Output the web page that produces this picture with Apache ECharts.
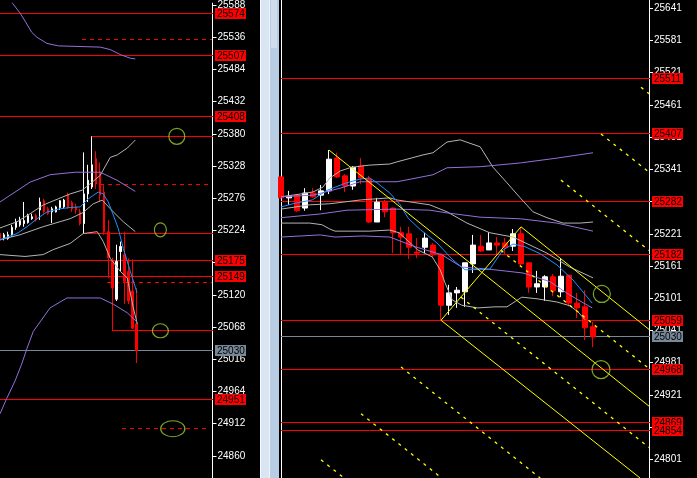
<!DOCTYPE html>
<html><head><meta charset="utf-8">
<script src="https://cdn.jsdelivr.net/npm/echarts@6/dist/echarts.min.js"></script>
<style>html,body{margin:0;padding:0;background:#000;overflow:hidden}#c{width:697px;height:478px}</style>
</head><body><div id="c"></div>
<script>
// ---------------- data ----------------
// candles: [open, close, low, high]
const leftCandles = [
 [25219,25208,25206,25222],[25212,25217,25208,25220],[25211,25217,25209,25222],[25217,25229,25214,25233],
 [25229,25238,25225,25243],[25233,25240,25230,25246],[25235,25240,25230,25270],[25237,25248,25235,25251],
 [25243,25246,25241,25251],[25248,25241,25238,25251],[25257,25270,25241,25277],[25272,25254,25251,25275],
 [25259,25251,25249,25262],[25254,25259,25236,25262],[25254,25262,25253,25264],[25261,25272,25257,25273],
 [25262,25273,25259,25275],[25281,25261,25259,25285],[25269,25259,25254,25272],[25262,25257,25251,25267],
 [25254,25235,25232,25259],[25235,25283,25219,25350],[25283,25305,25270,25330],[25294,25330,25291,25376],
 [25340,25299,25291,25352],[25318,25281,25270,25334],[25286,25222,25217,25297],[25222,25180,25147,25241],
 [25174,25131,25062,25180],[25113,25174,25110,25201],[25190,25198,25158,25206],[25185,25142,25105,25222],
 [25158,25110,25105,25179],[25126,25066,25065,25177],[25073,25030,25010,25131]
];
const rightCandles = [
 [25327,25288,25286,25328],[25288,25291,25275,25301],[25293,25264,25262,25295],[25269,25297,25264,25306],
 [25297,25290,25288,25306],[25293,25301,25265,25312],[25301,25360,25295,25377],[25362,25327,25325,25372],
 [25329,25310,25299,25332],[25310,25345,25303,25347],[25347,25325,25314,25362],[25323,25243,25241,25329],
 [25243,25280,25243,25288],[25280,25262,25252,25284],[25269,25223,25185,25270],[25223,25215,25183,25234],
 [25221,25196,25174,25234],[25187,25185,25176,25213],[25196,25213,25185,25223],[25200,25182,25178,25204],
 [25183,25088,25060,25184],[25088,25111,25070,25126],[25111,25116,25083,25122],[25113,25167,25085,25167],
 [25165,25200,25148,25219],[25198,25189,25187,25219],[25191,25204,25191,25224],[25204,25200,25182,25215],
 [25204,25196,25183,25213],[25198,25221,25189,25230],[25221,25165,25163,25233],[25167,25122,25111,25167],
 [25122,25128,25111,25152],[25122,25141,25096,25144],[25141,25115,25105,25146],[25113,25142,25103,25176],
 [25144,25092,25086,25144],[25092,25083,25064,25111],[25085,25046,25023,25116],[25048,25029,25010,25057]
];
const leftSlots = 54, rightSlots = 47;

// indicator lines: [bar position, price]
const leftGrayUpper = [[0,25228],[4.25,25238],[7.5,25251],[10.75,25265],[14.5,25275],[17.5,25283],[20.5,25289],[23,25302],[25,25313],[27.5,25342],[29.25,25346],[31.75,25357],[33.75,25370]];
const leftGrayMid = [[0,25209],[5,25217],[10.75,25230],[17.5,25243],[20.75,25253],[23.25,25267],[25.5,25273],[28.25,25254],[30.75,25238],[33.75,25222]];
const leftGrayLower = [[0,25185],[6.25,25182],[10.75,25185],[13.25,25193],[17.5,25203],[20.75,25219],[24.25,25222],[25.75,25206],[27.5,25179],[30,25158],[31.75,25147],[33.25,25099],[34.25,25073]];
const leftPurpleUpper = [[2.5,25604],[3.1,25591],[5,25575],[6.25,25562],[7.9,25544],[9.2,25536],[11.7,25526],[14.6,25522],[25,25520],[27.5,25516],[30,25508],[32.5,25502],[33.75,25501]];
const leftPurpleMid = [[0,25270],[7.5,25302],[12.5,25314],[18.75,25318],[25,25318],[29.2,25305],[33.75,25287]];
const leftPurpleLower = [[0,24928],[1.7,24953],[3.75,24981],[5.4,25008],[6.7,25033],[8.3,25061],[12.5,25099],[16.7,25115],[25,25115],[28.25,25105],[31.75,25091],[34.2,25076]];
const leftBlue = [[0,25209],[4.25,25219],[6.75,25230],[9.25,25243],[11.75,25254],[15,25259],[17.5,25261],[20,25262],[22,25275],[24.5,25286],[25.75,25283],[27,25270],[28.25,25249],[29.5,25227],[30.75,25195],[32.5,25158],[34.2,25123]];

const rightGrayUpper = [[0,25290],[2.4,25295],[4,25299],[5.25,25308],[6.1,25325],[7.4,25338],[8.6,25344],[9.9,25347],[11.1,25349],[13.6,25351],[14.5,25355],[17.75,25368],[19,25372],[20.75,25392],[22.4,25396],[24.9,25383],[26.5,25345],[28.25,25316],[29.9,25288],[31.5,25262],[33.25,25251],[35.25,25241],[37.4,25241],[39,25243]];
const rightGrayMid = [[0,25267],[3.6,25275],[6.1,25277],[9.9,25284],[13.6,25288],[14.5,25284],[18.6,25275],[20.75,25262],[23.25,25241],[26.1,25223],[29,25215],[33.25,25185],[36.1,25159],[39,25139]];
const rightGrayLower = [[0,25241],[3.6,25241],[5.1,25238],[6.1,25230],[6.75,25226],[11.1,25226],[13.6,25228],[14.75,25223],[17.1,25191],[18.9,25178],[19.9,25154],[20.5,25130],[21.4,25098],[22.6,25088],[24.6,25083],[26.75,25085],[28.25,25085],[30.1,25103],[32,25100],[34.5,25094],[36.1,25087],[37.1,25076],[38,25061]];
const rightPurpleUpper = [[0,25290],[4,25293],[7.4,25306],[9.9,25318],[14.5,25318],[19,25331],[20.75,25344],[24.9,25346],[29.9,25353],[34.5,25362],[39,25372]];
const rightPurpleMid = [[0,25251],[4.9,25258],[8.25,25265],[14.5,25267],[18.6,25265],[20.75,25260],[24.9,25252],[29.9,25249],[34.5,25241],[39,25226]];
const rightPurpleLower = [[0,25215],[4.9,25219],[6.75,25215],[10.25,25217],[13.6,25215],[16.75,25197],[20.1,25182],[22.6,25159],[26.1,25155],[30.25,25148],[33.6,25132],[36.1,25107],[38.9,25083]];
const rightBlue = [[0,25271],[1.75,25278],[3.9,25284],[5.75,25302],[8,25315],[9.9,25323],[11.1,25325],[12,25316],[13.6,25297],[14.9,25275],[15.9,25250],[17.4,25229],[19.5,25204],[21.5,25172],[23,25154],[26.1,25155],[27.75,25191],[29,25202],[30.5,25197],[32.4,25184],[34.5,25163],[36.5,25135],[38.9,25092]];

// yellow channel segments [[start],[end]]
const yellowSolid = [
 [[6,25377],[46,24900]], [[30,25234],[46,25043]], [[20,25060],[44.9,24766]], [[20,25060],[30,25234]]
];
const yellowDotted = [
 [[5,24800],[7.9,24766]], [[10,24886],[20.1,24766]], [[15,24973],[32.4,24766]],
 [[22.5,25103],[46,24823]], [[27.5,25190],[46,24970]], [[35,25321],[46,25190]],
 [[40,25407],[46,25336]], [[45,25494],[46,25482]]
];

// levels
const leftLabeledLevels = [25574, 25507, 25408, 25175, 25149, 24951];
const leftPartialLevels = [[23,25376],[21,25219],[28,25062]];       // [start bar, price]
const leftDashedLevels = [[20.4,53,25533],[25,53,25298],[26.75,53,25140],[30.4,52,24904]]; // [start, end, price]
const rightLabeledLevels = [25511, 25407, 25282, 25182, 25059, 24968, 24869, 24854];
const bidPrice = 25030;

// circles: [bar position, price, width, height]
const leftCircles = [[44.1,25376,16,16],[40,25225,12,14],[40,25062,16,14],[43.1,24904,24,16]];
const rightCircles = [[40.1,25109,17,17],[40,24968,18,18]];

// axis ticks
const leftTicks = [25588,25536,25484,25432,25380,25328,25276,25224,25172,25120,25068,25016,24964,24912,24860];
const rightTicks = [25641,25581,25521,25461,25401,25341,25281,25221,25161,25101,25041,24981,24921,24861,24801];

// ---------------- chart ----------------
const FONT = 'Liberation Sans';
const RED = '#ff0000', GRAY = '#b4b4b4', PURPLE = '#9370db', BLUE = '#1e90ff', YEL = '#ffff00', GREEN = '#9acd32', BID = '#778899';

function yAx(grid, min, max, ticks) {
  return {
    type: 'value', gridIndex: grid, position: 'right', min: min, max: max, scale: true,
    splitLine: { show: false },
    axisLine: { show: true, onZero: false, lineStyle: { color: '#ffffff', width: 1 } },
    axisTick: { show: true, inside: false, length: 4, lineStyle: { color: '#ffffff' }, customValues: ticks },
    axisLabel: { show: true, color: '#ffffff', fontSize: 10, fontFamily: FONT, margin: 5,
                 customValues: ticks, formatter: v => String(v) }
  };
}
function lineSeries(xi, yi, data, color, z) {
  return { type: 'line', xAxisIndex: xi, yAxisIndex: yi, data: data, symbol: 'none', silent: true,
           lineStyle: { color: color, width: 1 }, itemStyle: { color: color }, z: z || 3, clip: true };
}
// level rows: [startBar, endBar, price, kind]  kind 0 plain red, 1 labelled red, 2 dashed red, 3 labelled bid
function levelRows(endX, labeled, partial, dashed) {
  const rows = [];
  labeled.forEach(p => rows.push([0, endX, p, 1]));
  partial.forEach(p => rows.push([p[0], endX, p[1], 0]));
  dashed.forEach(p => rows.push([p[0], p[1], p[2], 2]));
  rows.push([0, endX, bidPrice, 3]);
  return rows;
}
function renderLevel(params, api) {
  const x0 = api.value(0), x1 = api.value(1), price = api.value(2), kind = api.value(3);
  const p0 = api.coord([x0, price]), p1 = api.coord([x1, price]);
  const yr = Math.floor(p0[1]);
  const xa = Math.round(p0[0]), xb = Math.round(p1[0]);
  const color = kind === 3 ? BID : RED;
  const children = [];
  if (kind === 2) {
    for (let x = xa; x < xb; x += 8) {
      children.push({ type: 'rect', shape: { x: x, y: yr, width: Math.min(4, xb - x), height: 1 }, style: { fill: color } });
    }
  } else {
    children.push({ type: 'rect', shape: { x: xa, y: yr, width: xb - xa + 1, height: 1 }, style: { fill: color } });
  }
  if (kind === 1 || kind === 3) {
    const bx = xb + 3;
    children.push({ type: 'rect', shape: { x: bx, y: yr - 5, width: 31, height: 11 }, style: { fill: color } });
    children.push({ type: 'text', x: bx + 2, y: yr + 1,
      style: { text: String(price), fill: '#000000', font: '10px "' + FONT + '"', verticalAlign: 'middle', align: 'left' } });
  }
  return { type: 'group', children: children };
}
function levelSeries(xi, yi, rows) {
  return { type: 'custom', xAxisIndex: xi, yAxisIndex: yi, data: rows, renderItem: renderLevel,
           encode: { x: [0, 1], y: 2 }, silent: true, z: 1, clip: false };
}
function circleSeries(xi, yi, list) {
  return list.map(c => ({
    type: 'scatter', xAxisIndex: xi, yAxisIndex: yi, silent: true, z: 5,
    data: [[c[0], c[1]]], symbol: 'circle', symbolSize: [c[2], c[3]],
    itemStyle: { color: 'rgba(0,0,0,0)', borderColor: GREEN, borderWidth: 1.2 }
  }));
}
function candleSeries(xi, yi, data, bw) {
  return { type: 'candlestick', xAxisIndex: xi, yAxisIndex: yi, data: data, barWidth: bw, silent: true, z: 2,
           itemStyle: { color: '#ffffff', color0: RED, borderColor: '#ffffff', borderColor0: RED, borderWidth: 1 } };
}

const leftCats = Array.from({ length: leftSlots }, (_, i) => String(i));
const rightCats = Array.from({ length: rightSlots }, (_, i) => String(i));

const series = [
  levelSeries(2, 0, levelRows(leftSlots - 1, leftLabeledLevels, leftPartialLevels, leftDashedLevels)),
  levelSeries(3, 1, levelRows(rightSlots - 1, rightLabeledLevels, [], [])),
  candleSeries(0, 0, leftCandles, 2),
  candleSeries(1, 1, rightCandles, 5),
  lineSeries(2, 0, leftGrayUpper, GRAY), lineSeries(2, 0, leftGrayMid, GRAY), lineSeries(2, 0, leftGrayLower, GRAY),
  lineSeries(2, 0, leftPurpleUpper, PURPLE), lineSeries(2, 0, leftPurpleMid, PURPLE), lineSeries(2, 0, leftPurpleLower, PURPLE),
  lineSeries(2, 0, leftBlue, BLUE),
  lineSeries(3, 1, rightGrayUpper, GRAY), lineSeries(3, 1, rightGrayMid, GRAY), lineSeries(3, 1, rightGrayLower, GRAY),
  lineSeries(3, 1, rightPurpleUpper, PURPLE), lineSeries(3, 1, rightPurpleMid, PURPLE), lineSeries(3, 1, rightPurpleLower, PURPLE),
  lineSeries(3, 1, rightBlue, BLUE)
];
yellowSolid.forEach(s => series.push(lineSeries(3, 1, s, YEL, 4)));
yellowDotted.forEach(s => { const ls = lineSeries(3, 1, s, YEL, 4); ls.lineStyle.type = [3, 5]; ls.lineStyle.width = 1.3; series.push(ls); });
circleSeries(2, 0, leftCircles).forEach(s => series.push(s));
circleSeries(3, 1, rightCircles).forEach(s => series.push(s));

const chart = echarts.init(document.getElementById('c'), null, { renderer: 'canvas' });
chart.setOption({
  backgroundColor: '#000000',
  animation: false,
  grid: [
    { left: 0, top: 0, width: 212.5, height: 478, containLabel: false },
    { left: 281, top: 0, width: 368, height: 478, containLabel: false }
  ],
  xAxis: [
    { type: 'category', gridIndex: 0, data: leftCats, boundaryGap: false, show: false },
    { type: 'category', gridIndex: 1, data: rightCats, boundaryGap: false, show: false },
    { type: 'value', gridIndex: 0, min: 0, max: leftSlots - 1, show: false, splitLine: { show: false } },
    { type: 'value', gridIndex: 1, min: 0, max: rightSlots - 1, show: false, splitLine: { show: false } }
  ],
  yAxis: [
    yAx(0, 24824.3, 25591, leftTicks),
    yAx(1, 24766.2, 25656.5, rightTicks)
  ],
  graphic: [
    { type: 'rect', shape: { x: 260, y: 0, width: 1, height: 478 }, style: { fill: '#f4f7fb' } },
    { type: 'rect', shape: { x: 261, y: 0, width: 8, height: 478 }, style: { fill: '#d9e5f2' } },
    { type: 'rect', shape: { x: 269, y: 0, width: 1, height: 478 }, style: { fill: '#f0f4f9' } },
    { type: 'rect', shape: { x: 270, y: 0, width: 9, height: 478 }, style: { fill: '#b8cce3' } },
    { type: 'rect', shape: { x: 271, y: 0, width: 6, height: 48 }, style: { fill: '#cfdcec' } },
    { type: 'rect', shape: { x: 281, y: 0, width: 1, height: 478 }, style: { fill: '#ffffff' } }
  ],
  series: series
});
</script>
</body></html>
